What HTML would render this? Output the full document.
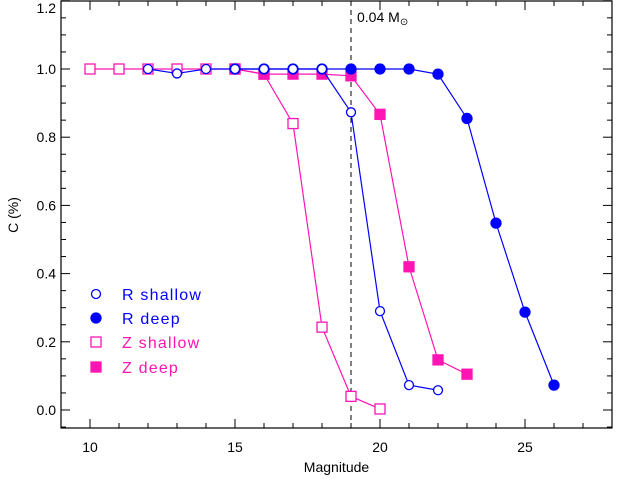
<!DOCTYPE html>
<html><head><meta charset="utf-8"><style>
body{margin:0;background:#fff;}
svg{display:block;font-family:"Liberation Sans",sans-serif;}
</style></head><body>
<svg id="chart" width="617" height="479" viewBox="0 0 617 479"></svg>
<script>
const xTicks=[10,15,20,25];
const yTicks=[0.0,0.2,0.4,0.6,0.8,1.0,1.2];
const yTickLabels=["0.0","0.2","0.4","0.6","0.8","1.0","1.2"];
const rShallowX=[12,13,14,15,16,17,18,19,20,21,22];
const rShallowY=[1.0,0.987,1.0,1.0,1.0,1.0,1.0,0.873,0.29,0.073,0.058];
const rDeepX=[15,16,17,18,19,20,21,22,23,24,25,26];
const rDeepY=[1.0,1.0,1.0,1.0,1.0,1.0,1.0,0.985,0.855,0.548,0.287,0.073];
const zShallowX=[10,11,12,13,14,15,16,17,18,19,20];
const zShallowY=[1.0,1.0,1.0,1.0,1.0,1.0,0.985,0.84,0.243,0.04,0.003];
const zDeepX=[15,16,17,18,19,20,21,22,23];
const zDeepY=[1.0,0.985,0.985,0.985,0.98,0.867,0.42,0.147,0.105];
const limitMag=19;

const NS="http://www.w3.org/2000/svg";
const svg=document.getElementById('chart');
const L=61,R=612,T=1,B=428;
const xMin=9,xMax=28,yMin=-0.055,yMax=1.2;
const sx=v=>L+(v-xMin)/(xMax-xMin)*(R-L);
const sy=v=>410-v*341;
function mk(tag,at,parent){const e=document.createElementNS(NS,tag);for(const k in at)e.setAttribute(k,at[k]);(parent||svg).appendChild(e);return e;}

const frame=mk('rect',{x:L,y:T,width:R-L,height:B-T,fill:'none',stroke:'#000','stroke-width':1.2});



for(let v=9;v<=28;v++){
  const major=v%5===0, x=sx(v), len=major?9:5;
  const t1=mk('line',{x1:x,x2:x,y1:B,y2:B-len,stroke:'#000'});
  
  
  const t2=mk('line',{x1:x,x2:x,y1:T,y2:T+len,stroke:'#000'});
  
  
}
xTicks.forEach(v=>{
  const t=mk('text',{x:sx(v),y:B+24,'text-anchor':'middle','font-size':14});
  t.textContent=v;
  
  
});
for(let i=-1;i<=24;i++){
  const v=i*0.05; if(v<yMin||v>yMax+0.001)continue;
  const major=i%4===0, y=sy(v), len=major?9:5;
  const t1=mk('line',{x1:L,x2:L+len,y1:y,y2:y,stroke:'#000'});
  
  
  const t2=mk('line',{x1:R,x2:R-len,y1:y,y2:y,stroke:'#000'});
  
  
}
yTicks.forEach((v,i)=>{
  const t=mk('text',{x:L-5,y:Math.max(sy(v)+5,13),'text-anchor':'end','font-size':14});
  t.textContent=yTickLabels[i];
  
  
});
const xt=mk('text',{x:(L+R)/2,y:472,'text-anchor':'middle','font-size':14});
xt.textContent='Magnitude';


const yt=mk('text',{x:18,y:215,'text-anchor':'middle','font-size':14,transform:'rotate(-90 18 215)'});
yt.textContent='C (%)';



const vl=mk('line',{x1:sx(limitMag),x2:sx(limitMag),y1:T,y2:B,stroke:'#000','stroke-dasharray':'5,4'});


const vt=mk('text',{x:sx(limitMag)+6,y:22,'font-size':14});
vt.innerHTML='0.04 M<tspan font-size="10" dy="3">⊙</tspan>';



function series(xs,ys,color,shape,filled,name){
  const g=mk('g',{});
  
  
  const pl=mk('polyline',{points:xs.map((x,i)=>sx(x)+','+sy(ys[i])).join(' '),fill:'none',stroke:color,'stroke-width':1.2},g);
  
  
  xs.forEach((x,i)=>{
    const cx=sx(x),cy=sy(ys[i]);let m;
    if(shape==='c')m=mk('circle',{cx:cx,cy:cy,r:filled?5:4.5,fill:filled?color:'#fff',stroke:color,'stroke-width':1.3},g);
    else m=mk('rect',{x:cx-5,y:cy-5,width:10,height:10,fill:filled?color:'#fff',stroke:color,'stroke-width':1.3},g);
    
    
  });
}
const blue='#0000ff',pink='#ff14b4';
series(zShallowX,zShallowY,pink,'s',false,'z-shallow-series');
series(zDeepX,zDeepY,pink,'s',true,'z-deep-series');
series(rDeepX,rDeepY,blue,'c',true,'r-deep-series');
series(rShallowX,rShallowY,blue,'c',false,'r-shallow-series');

const leg=[['R shallow',blue,'c',false,295],['R deep',blue,'c',true,319],['Z shallow',pink,'s',false,343],['Z deep',pink,'s',true,368]];
leg.forEach(l=>{
  const [txt,c,s,f,y]=l;let m;
  if(s==='c')m=mk('circle',{cx:96,cy:y-1,r:f?5:4.5,fill:f?c:'#fff',stroke:c,'stroke-width':1.3});
  else m=mk('rect',{x:91,y:y-6,width:10,height:10,fill:f?c:'#fff',stroke:c,'stroke-width':1.3});
  
  
  const t=mk('text',{x:122,y:y+5,'font-size':16,'letter-spacing':'1.2',fill:c});
  t.textContent=txt;
  
  
});
</script>
</body></html>
